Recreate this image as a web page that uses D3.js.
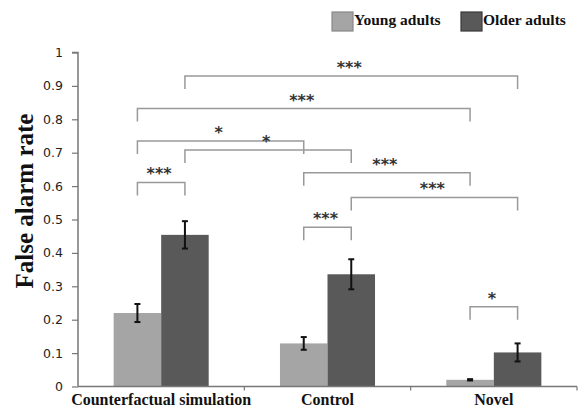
<!DOCTYPE html>
<html>
<head>
<meta charset="utf-8">
<script src="https://cdn.jsdelivr.net/npm/d3@7"></script>
<style>
  body { margin: 0; background: #fff; }
  svg { display: block; }
</style>
</head>
<body>
<svg width="585" height="408"></svg>
<script>
// chart data
var categories = ['Counterfactual simulation', 'Control', 'Novel'];
var groups = ['Young adults', 'Older adults'];
var youngValues = [0.22, 0.129, 0.02];
var youngErrors = [0.027, 0.019, 0.002];
var olderValues = [0.454, 0.336, 0.102];
var olderErrors = [0.041, 0.045, 0.027];
var yTicks = [0, 0.1, 0.2, 0.3, 0.4, 0.5, 0.6, 0.7, 0.8, 0.9, 1];

// significance brackets: [from category, from group, to category, to group, level, label]
var brackets = [
    [0, 1, 2, 1, 0.93, '***'],
    [0, 0, 2, 0, 0.832, '***'],
    [0, 0, 1, 0, 0.735, '*'],
    [0, 1, 1, 1, 0.708, '*'],
    [0, 0, 0, 1, 0.611, '***'],
    [1, 0, 2, 0, 0.64, '***'],
    [1, 1, 2, 1, 0.566, '***'],
    [1, 0, 1, 1, 0.477, '***'],
    [2, 0, 2, 1, 0.239, '*']
];

var colors = {'Young adults': '#a5a5a5', 'Older adults': '#595959'};

var svg = d3.select('svg');
var svgWidth = +svg.attr('width');
var svgHeight = +svg.attr('height');

var padding = {t: 52.5, r: 8, b: 21.5, l: 78};
var chartWidth = svgWidth - padding.l - padding.r;
var chartHeight = svgHeight - padding.t - padding.b;

var chartG = svg.append('g')
    .attr('transform', 'translate(' + [padding.l, padding.t] + ')');

var x0 = d3.scaleBand()
    .domain(categories)
    .range([0, chartWidth])
    .padding(0);

var x1 = d3.scaleBand()
    .domain(groups)
    .range([0, x0.bandwidth()])
    .paddingInner(0)
    .paddingOuter(0.75);

var y = d3.scaleLinear()
    .domain([0, 1])
    .range([chartHeight, 0]);

// flatten to one row per bar
var rows = [];
categories.forEach(function(c, i) {
    rows.push({category: c, group: groups[0], value: youngValues[i], err: youngErrors[i]});
    rows.push({category: c, group: groups[1], value: olderValues[i], err: olderErrors[i]});
});

function barCenter(ci, gi) {
    return x0(categories[ci]) + x1(groups[gi]) + x1.bandwidth() / 2;
}

// y axis
var yAxis = d3.axisLeft(y)
    .tickValues(yTicks)
    .tickSize(6)
    .tickPadding(9)
    .tickFormat(function(d) { return d3.format('~g')(d); });

var yAxisG = chartG.append('g')
    .attr('class', 'y-axis')
    .call(yAxis);
yAxisG.select('.domain').attr('stroke', '#777').attr('stroke-width', 1.5).attr('d', 'M0,' + chartHeight + 'V0H-6');
yAxisG.selectAll('.tick line').attr('stroke', '#777').attr('stroke-width', 1.2);
yAxisG.selectAll('.tick text')
    .style('font-family', '"DejaVu Sans", Verdana, sans-serif')
    .style('font-size', '12.5px')
    .attr('fill', '#222');

// bars
chartG.selectAll('.bar')
    .data(rows)
    .enter().append('rect')
    .attr('class', 'bar')
    .attr('x', function(d) { return x0(d.category) + x1(d.group); })
    .attr('y', function(d) { return y(d.value); })
    .attr('width', x1.bandwidth())
    .attr('height', function(d) { return chartHeight - y(d.value); })
    .style('fill', function(d) { return colors[d.group]; });

// x axis
var xAxis = d3.axisBottom(x0)
    .tickSize(0)
    .tickPadding(7);

var xAxisG = chartG.append('g')
    .attr('class', 'x-axis')
    .attr('transform', 'translate(0,' + chartHeight + ')')
    .call(xAxis);
xAxisG.select('.domain').attr('stroke', '#777').attr('stroke-width', 1.5).attr('d', 'M0,0H' + chartWidth);
xAxisG.selectAll('.tick text')
    .style('font-family', '"Liberation Serif", "Times New Roman", serif')
    .style('font-size', '16px')
    .style('font-weight', 'bold')
    .attr('fill', '#111');

// category boundary ticks
xAxisG.selectAll('.sep')
    .data(categories)
    .enter().append('line')
    .attr('class', 'sep')
    .attr('x1', function(d) { return x0(d) + x0.bandwidth(); })
    .attr('x2', function(d) { return x0(d) + x0.bandwidth(); })
    .attr('y1', 0)
    .attr('y2', 4)
    .attr('stroke', '#777')
    .attr('stroke-width', 1.2);

// error bars
var errG = chartG.selectAll('.err')
    .data(rows)
    .enter().append('g')
    .attr('class', 'err')
    .attr('transform', function(d) {
        return 'translate(' + (x0(d.category) + x1(d.group) + x1.bandwidth() / 2) + ',0)';
    });
errG.append('line')
    .attr('y1', function(d) { return y(d.value + d.err); })
    .attr('y2', function(d) { return y(d.value - d.err); })
    .attr('stroke', '#111')
    .attr('stroke-width', 2);
errG.append('line')
    .attr('x1', -3).attr('x2', 3)
    .attr('y1', function(d) { return y(d.value + d.err); })
    .attr('y2', function(d) { return y(d.value + d.err); })
    .attr('stroke', '#111')
    .attr('stroke-width', 2);
errG.append('line')
    .attr('x1', -3).attr('x2', 3)
    .attr('y1', function(d) { return y(d.value - d.err); })
    .attr('y2', function(d) { return y(d.value - d.err); })
    .attr('stroke', '#111')
    .attr('stroke-width', 2);

// significance brackets
var legLen = 13;
var brG = chartG.selectAll('.bracket')
    .data(brackets)
    .enter().append('g')
    .attr('class', 'bracket');
brG.append('path')
    .attr('d', function(d) {
        var xa = barCenter(d[0], d[1]);
        var xb = barCenter(d[2], d[3]);
        var yy = y(d[4]);
        return 'M' + xa + ',' + (yy + legLen) + 'V' + yy + 'H' + xb + 'V' + (yy + legLen);
    })
    .attr('fill', 'none')
    .attr('stroke', '#999')
    .attr('stroke-width', 1.5);
brG.append('text')
    .attr('x', function(d) { return (barCenter(d[0], d[1]) + barCenter(d[2], d[3])) / 2 - 2; })
    .attr('y', function(d) { return y(d[4]) - 3; })
    .attr('text-anchor', 'middle')
    .style('font-family', '"DejaVu Sans", sans-serif')
    .style('font-size', '16px')
    .style('font-weight', 'bold')
    .attr('fill', '#333')
    .text(function(d) { return d[5]; });

// y axis title
svg.append('text')
    .attr('transform', 'translate(33,201) rotate(-90)')
    .attr('text-anchor', 'middle')
    .style('font-family', '"Liberation Serif", "Times New Roman", serif')
    .style('font-size', '25px')
    .style('font-weight', 'bold')
    .attr('fill', '#111')
    .text('False alarm rate');

// legend
var legendX = [332, 461];
var legendStroke = ['#888', '#3a3a3a'];
var legendG = svg.selectAll('.legend')
    .data(groups)
    .enter().append('g')
    .attr('class', 'legend')
    .attr('transform', function(d, i) { return 'translate(' + legendX[i] + ',12)'; });
legendG.append('rect')
    .attr('width', 21)
    .attr('height', 19)
    .style('fill', function(d) { return colors[d]; })
    .attr('stroke', function(d, i) { return legendStroke[i]; })
    .attr('stroke-width', 1.2);
legendG.append('text')
    .attr('x', 22)
    .attr('y', 13)
    .style('font-family', '"Liberation Serif", "Times New Roman", serif')
    .style('font-size', '15.5px')
    .style('font-weight', 'bold')
    .attr('fill', '#111')
    .text(function(d) { return d; });
</script>
</body>
</html>
